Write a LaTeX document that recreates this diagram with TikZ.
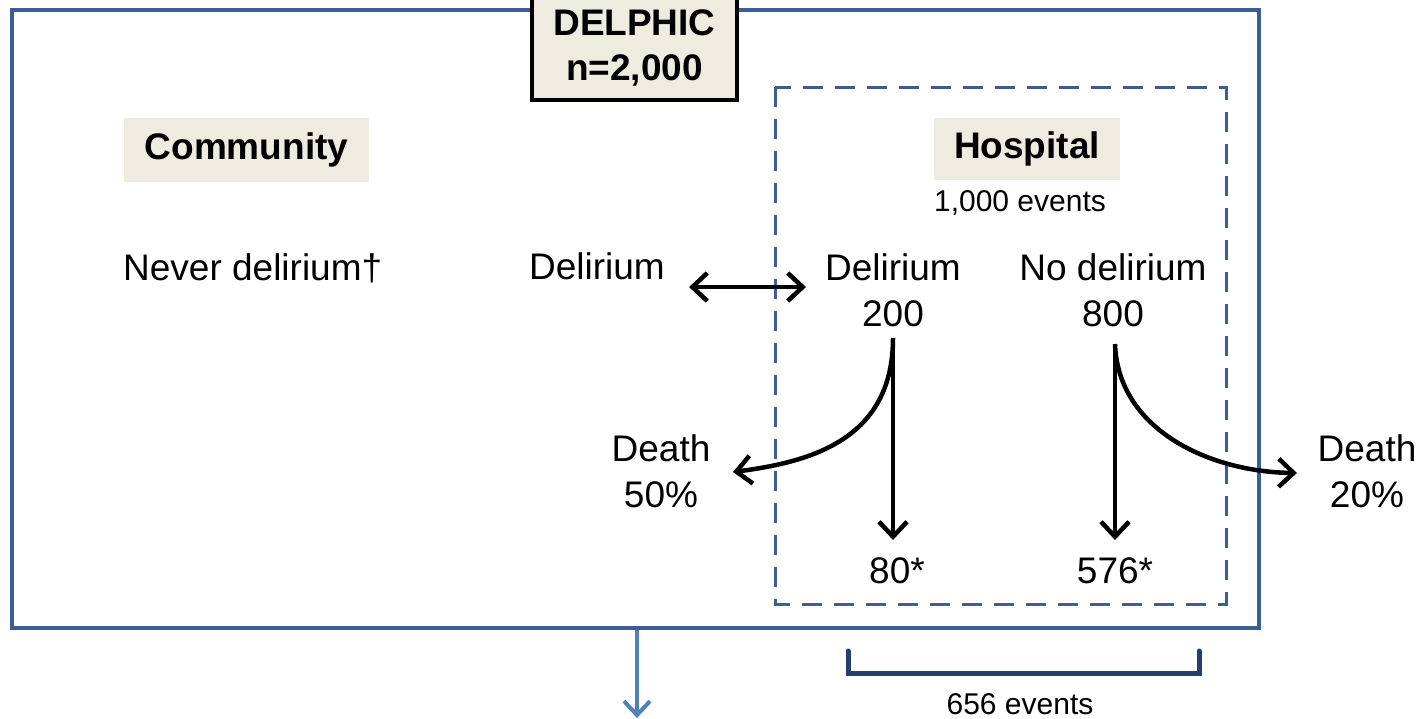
\documentclass[tikz,border=0pt]{standalone}
\usepackage{fontspec}
\setmainfont{Liberation Sans}
\usetikzlibrary{arrows.meta}
\definecolor{boxblue}{RGB}{62,92,150}
\definecolor{navy}{RGB}{36,62,110}
\definecolor{lightblue}{RGB}{79,129,189}
\definecolor{beige}{RGB}{238,236,225}
\tikzset{
  txt/.style={inner sep=0pt, align=center, font=\fontsize{37}{46}\selectfont},
  small/.style={inner sep=0pt, align=center, font=\fontsize{30}{34}\selectfont},
  lbl/.style={fill=beige, inner sep=0pt, font=\bfseries\fontsize{37}{43}\selectfont},
  tip/.style={},
  arr/.style={line width=4.5pt, -{Straight Barb[length=15pt,width=28pt]}},
  darr/.style={line width=4.5pt, {Straight Barb[length=15pt,width=28pt]}-{Straight Barb[length=15pt,width=28pt]}}
}
\begin{document}
\begin{tikzpicture}[x=1pt,y=-1pt]
\useasboundingbox (0,0) rectangle (1423,718);
% frames
\draw[boxblue, line width=4pt] (12,10) rectangle (1259,628);
\draw[boxblue, line width=3pt, dash pattern=on 20pt off 12pt] (775,87) rectangle (1226,604);
% header
\node[draw=black, line width=4pt, fill=beige, minimum width=205pt, minimum height=104pt,
      inner sep=0pt, align=center, font=\bfseries\fontsize{37}{45}\selectfont] (delphic) at (634.5,48) {DELPHIC\\n=2,000};
% labels
\node[lbl, minimum width=245pt, minimum height=64pt] (comm) at (246.5,150) {Community};
\node[lbl, minimum width=186pt, minimum height=62pt] (hosp) at (1027,149) {Hospital};
\node[small] (hev) at (1020,203) {1,000 events};
% texts
\node[txt, anchor=west] (never) at (123,268) {Never delirium†};
\node[txt] (cdel) at (597,266) {Delirium};
\node[txt] (hdel) at (893,290) {Delirium\\200};
\node[txt] (hno) at (1113,290) {No delirium\\800};
\node[txt] (death1) at (661,471) {Death\\50\%};
\node[txt] (death2) at (1367,471) {Death\\20\%};
\node[txt] (n80) at (897,571) {80*};
\node[txt] (n576) at (1115,571) {576*};
% connectors
\coordinate (da) at (689,287);
\coordinate (db) at (806,287);
\draw[darr] (da) -- (db);
\coordinate (s1) at (893,338);
\coordinate (s2) at (1115,344);
\draw[arr] (s1) -- (893,540);
\draw[arr] (s2) -- (1115,540);
\coordinate (e1) at (733,472);
\coordinate (e2) at (1297,473);
\draw[arr] (s1) .. controls (893,440) and (810,462) .. (e1);
\draw[arr] (s2) .. controls (1118,430) and (1210,472) .. (e2);
% bracket
\draw[navy, line width=5pt, line cap=round] (848,651) -- (848,673) -- (1199,673) -- (1199,651);
\node[small] (ev656) at (1020,704) {656 events};
% bottom arrow
\coordinate (ba) at (637,630);
\coordinate (bb) at (637,718);
\draw[lightblue, line width=4pt, -{Straight Barb[length=14pt,width=26pt]}] (ba) -- (bb);
\end{tikzpicture}
\end{document}
